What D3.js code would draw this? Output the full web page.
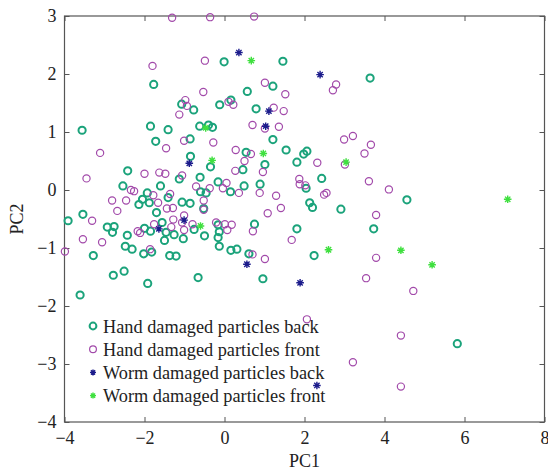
<!DOCTYPE html>
<html>
<head>
<meta charset="utf-8">
<script src="https://cdn.jsdelivr.net/npm/d3@7"></script>
<style>
  body { margin: 0; background: #fff; }
  svg text { font-family: "Liberation Serif", "Times New Roman", serif; fill: #222; }
</style>
</head>
<body>
<svg id="chart" width="548" height="474"></svg>
<script>
// PC scores, [PC1, PC2]
var handBack = [
  [-0.01,2.21],[-1.77,1.82],[-1.07,1.48],[-0.77,1.38],[-0.12,1.47],[0.16,1.55],[-3.56,1.03],[-1.85,1.10],
  [-1.41,1.04],[-0.62,1.10],[-0.40,1.12],[-0.30,1.08],[-1.72,0.84],[-0.86,0.88],[-0.85,0.58],[-0.35,0.40],
  [-2.42,0.33],[1.46,2.22],[1.21,1.79],[0.57,1.70],[0.79,1.40],[1.21,0.87],[0.54,0.65],[1.54,0.69],
  [2.06,0.67],[1.98,0.62],[1.81,0.48],[1.01,0.44],[3.64,1.93],[0.46,0.35],[-0.61,0.22],[-1.13,0.19],
  [-1.60,0.07],[-2.54,0.07],[-1.93,-0.05],[-2.05,-0.16],[-1.88,-0.22],[-2.14,-0.25],[-1.41,-0.13],[-1.06,-0.21],
  [-0.86,-0.23],[-0.60,-0.03],[-0.46,-0.05],[-0.16,0.14],[0.15,-0.03],[-0.52,-0.32],[-1.70,-0.39],[-3.91,-0.53],
  [-3.54,-0.42],[-1.56,-0.56],[-2.93,-0.64],[-2.80,-0.73],[-2.76,-0.63],[-2.43,-0.78],[-2.00,-0.66],[-1.85,-0.71],
  [-1.46,-0.73],[-1.26,-0.77],[-1.50,-0.87],[-1.03,-0.84],[-0.76,-0.68],[-0.50,-0.79],[-0.16,-0.60],[-0.13,-0.72],
  [-0.16,-0.82],[-0.13,-0.97],[0.16,-1.04],[0.31,-1.02],[-2.48,-0.97],[-2.31,-1.02],[-2.02,-1.10],[-1.82,-1.07],
  [-1.37,-1.13],[-1.21,-1.14],[-3.28,-1.13],[-2.78,-1.47],[-2.51,-1.40],[-1.92,-1.61],[-0.66,-1.51],[-3.61,-1.81],
  [0.49,0.07],[0.89,0.10],[2.04,0.03],[2.43,0.20],[2.13,-0.22],[2.20,-0.30],[2.91,-0.33],[4.56,-0.17],
  [0.75,-0.59],[1.81,-0.67],[3.73,-0.67],[0.61,-1.10],[2.24,-1.13],[0.96,-1.53],[5.82,-2.65]
];
var handFront = [
  [-1.31,2.97],[-0.36,2.98],[0.74,2.99],[-1.80,2.14],[-0.49,2.23],[-0.53,1.69],[-0.98,1.55],[-0.94,1.45],
  [-1.13,1.30],[0.10,1.52],[0.22,1.47],[-1.01,0.85],[-0.28,0.82],[-1.46,0.72],[-3.11,0.64],[0.28,0.69],
  [1.01,1.85],[1.52,1.65],[2.79,1.82],[2.71,1.72],[1.23,1.42],[1.48,1.36],[0.70,1.12],[1.01,1.06],
  [1.36,1.09],[2.99,0.87],[3.21,0.93],[3.66,0.78],[3.50,0.63],[0.66,0.62],[0.50,0.50],[2.32,0.47],
  [3.01,0.44],[0.27,0.33],[0.96,0.31],[-3.45,0.20],[-2.00,0.28],[-1.63,0.30],[-1.48,0.28],[-1.06,0.25],
  [-2.34,0.00],[-2.26,-0.02],[-1.78,-0.09],[-2.81,-0.18],[-2.46,-0.18],[-1.66,-0.22],[-1.36,-0.07],[-0.71,0.06],
  [-0.37,0.03],[-0.04,0.03],[0.05,0.12],[-0.52,-0.18],[-0.52,-0.34],[-1.44,-0.32],[-1.29,-0.31],[-2.68,-0.36],
  [-3.31,-0.53],[-1.01,-0.44],[-1.28,-0.51],[-1.76,-0.59],[-1.33,-0.64],[-1.01,-0.69],[-1.06,-0.56],[-0.80,-0.59],
  [-0.21,-0.56],[0.01,-0.59],[0.18,-0.60],[0.07,-0.69],[-2.17,-0.71],[-2.11,-0.74],[-3.54,-0.85],[-3.06,-0.90],
  [-3.99,-1.06],[-1.86,-1.02],[1.87,0.19],[1.88,0.10],[2.02,0.08],[2.49,-0.08],[2.55,-0.05],[0.36,-0.05],
  [0.88,-0.05],[1.29,-0.10],[1.41,-0.31],[1.08,-0.40],[3.61,0.15],[4.11,0.01],[3.79,-0.43],[0.71,-0.71],
  [1.68,-0.86],[0.70,-1.11],[1.01,-1.19],[3.79,-1.17],[3.54,-1.52],[4.72,-1.74],[4.41,-2.51],[4.41,-3.39],
  [2.06,-2.23],[3.21,-2.97]
];
var wormBack = [
  [0.36,2.37],[-0.88,0.46],[2.39,1.99],[1.11,1.36],[1.03,1.10],
  [-1.01,-0.52],[-1.64,-0.67],[0.56,-1.28],[1.89,-1.60],[2.31,-3.37]
];
var wormFront = [
  [-0.47,1.07],[-0.31,0.51],[0.67,2.23],[0.97,0.63],[3.04,0.48],
  [-0.60,-0.62],[2.60,-1.03],[4.41,-1.04],[5.19,-1.29],[7.08,-0.16]
];
var seriesNames = ["Hand damaged particles back", "Hand damaged particles front",
                   "Worm damaged particles back", "Worm damaged particles front"];
var xTicks = [-4, -2, 0, 2, 4, 6, 8];
var yTicks = [-4, -3, -2, -1, 0, 1, 2, 3];

var svg = d3.select("#chart");
var m = {left: 64.5, top: 16, right: 3.5, bottom: 52};
var w = 548 - m.left - m.right, h = 474 - m.top - m.bottom;
var x = d3.scaleLinear().domain([-4, 8]).range([0, w]);
var y = d3.scaleLinear().domain([-4, 3]).range([h, 0]);
var g = svg.append("g").attr("transform", "translate(" + m.left + "," + m.top + ")");
var fmt = d3.format("d");

function styleAxis(sel, showLabels) {
  sel.select(".domain").remove();
  sel.selectAll(".tick line").attr("stroke", "#555");
  sel.selectAll(".tick text").style("font-size", "18px").attr("fill", "#222");
  if (!showLabels) sel.selectAll(".tick text").remove();
}
g.append("g").attr("transform", "translate(0," + h + ")")
  .call(d3.axisBottom(x).tickValues(xTicks).tickFormat(fmt).tickSize(-5).tickPadding(9))
  .call(styleAxis, true);
g.append("g")
  .call(d3.axisTop(x).tickValues(xTicks).tickSize(-5))
  .call(styleAxis, false);
g.append("g")
  .call(d3.axisLeft(y).tickValues(yTicks).tickFormat(fmt).tickSize(-5).tickPadding(8))
  .call(styleAxis, true);
g.append("g").attr("transform", "translate(" + w + ",0)")
  .call(d3.axisRight(y).tickValues(yTicks).tickSize(-5))
  .call(styleAxis, false);

g.append("rect").attr("width", w).attr("height", h)
  .attr("fill", "none").attr("stroke", "#555").attr("stroke-width", 1.2);

var colors = ["#1ba37b", "#a24aaa", "#1c1c8c", "#3fe03f"];

function starPath(s) {
  var d = s * 0.7;
  return "M" + (-s) + ",0L" + s + ",0M0," + (-s) + "L0," + s +
         "M" + (-d) + "," + (-d) + "L" + d + "," + d +
         "M" + (-d) + "," + d + "L" + d + "," + (-d);
}

function drawCircles(data, color, sw) {
  g.append("g").selectAll("circle").data(data).enter().append("circle")
    .attr("cx", function(d){ return x(d[0]); })
    .attr("cy", function(d){ return y(d[1]); })
    .attr("r", 3.6)
    .attr("fill", "none").attr("stroke", color).attr("stroke-width", sw);
}
function drawStars(data, color) {
  g.append("g").selectAll("path").data(data).enter().append("path")
    .attr("transform", function(d){ return "translate(" + x(d[0]) + "," + y(d[1]) + ")"; })
    .attr("d", starPath(3.8))
    .attr("fill", "none").attr("stroke", color).attr("stroke-width", 1.4);
}
drawCircles(handBack, colors[0], 2);
drawCircles(handFront, colors[1], 1.2);
drawStars(wormBack, colors[2]);
drawStars(wormFront, colors[3]);

// legend
var lg = svg.append("g").attr("transform", "translate(93,326)");
seriesNames.forEach(function(name, i) {
  var row = lg.append("g").attr("transform", "translate(0," + (i * 23.2) + ")");
  if (i < 2) {
    row.append("circle").attr("r", 3.4).attr("fill", "none")
      .attr("stroke", colors[i]).attr("stroke-width", i == 0 ? 2 : 1.2);
  } else {
    row.append("path").attr("d", starPath(3)).attr("fill", "none")
      .attr("stroke", colors[i]).attr("stroke-width", 1.4);
  }
  row.append("text").attr("x", 10).attr("y", 6.5).style("font-size", "18.3px").text(name);
});

svg.append("text").attr("x", m.left + w / 2).attr("y", 467)
  .attr("text-anchor", "middle").style("font-size", "18px").text("PC1");
svg.append("text").attr("transform", "translate(23," + (m.top + h / 2) + ") rotate(-90)")
  .attr("text-anchor", "middle").style("font-size", "18px").text("PC2");
</script>
</body>
</html>
